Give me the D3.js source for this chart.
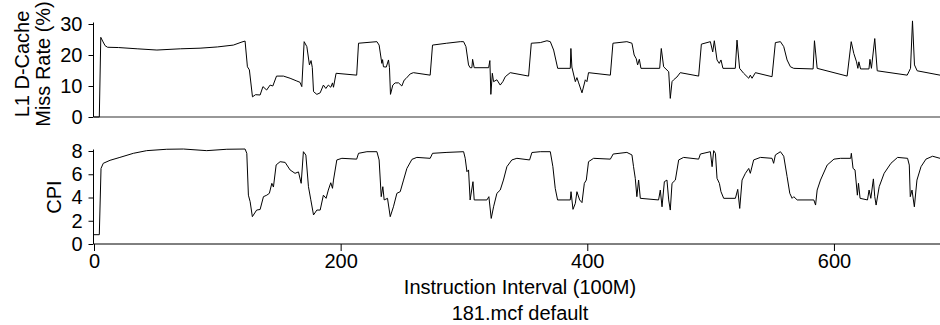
<!DOCTYPE html>
<html><head><meta charset="utf-8">
<script src="https://cdn.jsdelivr.net/npm/d3@7"></script>
<style>
html,body{margin:0;padding:0;background:#fff;}
svg text{font-family:"Liberation Sans",Arial,Helvetica,sans-serif;fill:#000;}
</style></head>
<body><svg id="c" width="940" height="325"></svg>
<script>
// ---- data ----
const missX = [0,4.3,5.5,7,9,11,20,35,51,70,86,100,113,120,122.5,124.4,126,128.5,131,134.7,137,140,142.8,145,148,153.6,159,164.5,167,168.5,170.4,172.6,174.7,176,177,178,180.7,183.4,186,188,190,192,193.4,194.2,196.3,213,214.5,229.4,231.2,233.4,234,234.7,237,238.8,239.6,240.4,242.3,244.2,247,249.6,251.5,253,256.4,259,272.6,274.5,286,297,299.7,301.6,303.7,305,306.4,307,308.3,320,321,321.8,323,324,326.7,329.4,331.5,333.5,337.5,352.4,354.6,361.9,367.3,370,372.7,376,386.2,386.7,387.5,390.3,391.6,393,395.7,398.4,399.7,401,418.7,420.8,432.1,436.2,438,439.7,440.8,442.2,443.5,458.7,460,461.9,466,467.3,468.7,470,472.7,475.4,490.3,492.5,499.8,501.7,503,505.2,507,508.4,510,520,521.4,523.5,526.8,530.9,532.2,533.6,536.3,549.8,552.5,556.6,559.3,562,564.7,567.4,583.1,584.2,586.4,610.7,614,616.1,618.3,619.4,620.2,621.6,628.4,629.2,630.4,633.1,635.1,659.4,662.1,663.7,665.3,667.5,686];
const missY = [0,0,25.7,24.5,23,22.5,22.4,22,21.6,22,22.2,22.6,23.2,24.2,24.5,16.2,15.2,6.5,7.2,7.1,9.8,8.7,10.3,10,13.2,13.2,12.5,11.6,11.2,9.8,24.3,22.7,16.8,18.2,16,8.2,7.3,7.8,10.3,9.2,10.3,9.6,11,9.6,14.1,13.5,23.8,24.3,23.2,17.3,18.5,16.2,16.1,18.4,15.9,7.3,10.3,11,11,10,11.9,12.4,13.9,14.3,13.5,23.2,23.8,24.3,24.3,22.7,16.8,15.9,15.9,18.6,15.9,15.9,18.2,7.3,14.1,11.4,12,10.3,11.4,13,14.3,13.2,23.8,24,24.6,24.3,21.6,15.7,15.7,22.1,16.1,11.4,12.7,11,7.8,12,11.4,14.3,13.5,23.8,24.3,23.8,20,18.8,16.8,18.6,15.7,15.7,22.1,16.2,14.6,6,11.4,12,12.9,14.3,13.2,23.5,24.3,21,24.6,18.4,17.3,18.4,15.7,15.7,24.8,15.7,14.1,12.5,13.5,12.5,14.3,13,24,24.3,22.7,18.4,16.2,15.7,15.5,24.6,15.7,13.2,24.3,20.5,17.8,15.7,17.8,15.5,15.5,18.6,15.7,25.3,14.9,13.5,15.7,31,16.8,14.9,13.5];
const cpiX = [0,4.3,5.7,7.5,13,21,31.9,42.7,59,72.5,91.4,107.7,122.5,123.9,125.2,126.6,128.4,131.9,134.7,137.4,140.1,142.2,144.2,145.5,147.7,150.9,155,159,163,165.8,168,169.8,171.8,173.9,175.8,178,180.7,183.4,186,188.2,190,192,193.4,194.2,196.9,201,213,214.5,221.3,229.4,231.2,232.9,234.2,235.3,238,240.2,242.8,245.6,248.3,251,253.7,257.8,261.8,272.6,274.5,286.2,299.7,301,302.4,303.7,305,307.3,308.3,318.6,320.2,322.1,324,326.7,329.4,332,334.8,338.8,342.9,353.2,355.1,361.9,370,372.1,374,375.9,386.2,386.8,388.4,390.3,391.6,393.8,395.7,397.6,399.2,401,405.1,418.7,421,432.1,436.2,437.5,438.9,440.2,441.6,443,457.8,459.2,460.6,462.5,464.6,466,467.3,468.7,471.4,474.1,478.1,490.3,491.7,499.8,501.2,502.5,503.9,505.2,507.1,508.4,510.6,520.1,522,523.6,525.5,528.2,530.9,532.2,534.9,540.4,549.8,551.1,552.5,556.6,559.3,562,564.2,566.1,567.4,570.2,583.7,585.1,586.4,589.1,594.5,600,605.4,613.6,614.1,615.5,617.1,619,619.9,621.2,627.2,628.5,629.9,632,633.1,634.2,636.7,640.7,646.2,651.6,659.7,661.1,661.9,663.3,665.2,667.3,670.6,674.6,680,686];
const cpiY = [0.8,0.8,6.5,6.94,7.2,7.45,7.8,8.03,8.15,8.17,8.03,8.15,8.17,7.8,4.2,3.64,2.35,2.92,2.97,4.07,4.2,4.36,5.22,4.9,6.8,7.08,7.02,6.37,6.08,6.2,5.22,7.94,7.65,4.93,3.8,2.5,2.92,2.92,4.2,3.93,4.64,5.27,4.79,5.5,7.23,7.37,7.3,7.8,7.94,7.94,7.23,4.07,4.93,3.79,3.93,2.35,3.2,4.36,4.5,5.5,6.5,7.28,7.45,7.37,7.8,7.88,7.94,7.37,6.22,6.37,3.79,5.36,3.79,3.79,4.07,2.2,3.2,4.36,4.64,5.5,6.65,7.23,7.37,7.23,7.87,7.94,7.94,6.65,4.79,3.79,3.79,4.5,2.98,3.5,4.5,3.79,3.56,5.22,5.5,7.08,7.37,7.3,7.74,7.88,7.66,6.65,5.65,4.07,5.5,3.93,3.79,4.64,3.2,5.36,5.5,3.79,2.92,5.22,5.5,7.23,7.45,7.3,7.74,7.94,6.65,8.03,7.8,5.65,5.22,4.5,3.93,3.93,4.7,3.06,5.5,6.08,6.5,6.08,7.23,7.45,7.37,6.94,7.66,7.94,7.55,5.8,4.36,3.93,4.07,3.79,3.79,3.35,4.64,5.5,6.79,7.3,7.37,7.37,7.8,6.5,6.37,4.2,5.22,3.93,3.79,4.64,3.93,5.6,4.07,3.35,4.93,6.08,6.94,7.45,7.37,6.79,4.07,4.64,3.2,5.5,6.65,7.3,7.55,7.37];
const xTicks = [0, 200, 400, 600];
const xMinorTicks = [100, 300, 500];
const missTicks = [0, 10, 20, 30];
const cpiTicks = [0, 2, 4, 6, 8];
const xLabel = "Instruction Interval (100M)";
const title = "181.mcf default";
const missLabel = ["L1 D-Cache", "Miss Rate (%)"];
const cpiLabel = "CPI";

// ---- drawing ----
const svg = d3.select("#c");
const x = d3.scaleLinear().domain([0, 686]).range([94, 940]);
const yMiss = d3.scaleLinear().domain([0, 30]).range([117, 24]);
const yCpi = d3.scaleLinear().domain([0, 8]).range([244, 151]);
const fs = "20px";

function yAxis(scale, major, minorStep) {
  const g = svg.append("g").attr("transform", "translate(93.5,0)");
  const [lo, hi] = scale.domain();
  const minor = d3.range(lo, hi + 1e-9, minorStep).filter(v => !major.includes(v));
  g.call(d3.axisLeft(scale).tickValues(minor).tickSize(3).tickFormat(""));
  g.call(d3.axisLeft(scale).tickValues(major).tickSize(5).tickPadding(6).tickFormat(d3.format("d")));
  g.selectAll("path.domain").remove();
  g.append("line").attr("y1", scale(lo)).attr("y2", scale(hi) - 1.5).attr("stroke", "#000");
  g.selectAll("text").style("font-size", fs);
  g.selectAll(".tick line").attr("stroke", "#000");
  return g;
}
yAxis(yMiss, missTicks, 1);
yAxis(yCpi, cpiTicks, 1);

// top panel baseline
svg.append("line").attr("x1", x(0)).attr("x2", 940).attr("y1", yMiss(0)).attr("y2", yMiss(0))
  .attr("stroke", "#333").attr("stroke-width", 1.2);

// bottom x axis
const gx = svg.append("g").attr("transform", `translate(0,${yCpi(0)})`);
gx.call(d3.axisBottom(x).tickValues(xMinorTicks).tickSize(3).tickFormat(""));
gx.call(d3.axisBottom(x).tickValues(xTicks).tickSize(7).tickPadding(3).tickFormat(d3.format("d")));
gx.selectAll("path.domain").remove();
gx.append("line").attr("x1", x(0)).attr("x2", 940).attr("stroke", "#000");
gx.selectAll("text").style("font-size", fs);

// lines
const missData = missX.map((v, i) => [v, missY[i]]);
const cpiData = cpiX.map((v, i) => [v, cpiY[i]]);
svg.append("path").datum(missData)
  .attr("d", d3.line().x(d => x(d[0])).y(d => yMiss(d[1])))
  .attr("fill", "none").attr("stroke", "#000").attr("stroke-width", 1);
svg.append("path").datum(cpiData)
  .attr("d", d3.line().x(d => x(d[0])).y(d => yCpi(d[1])))
  .attr("fill", "none").attr("stroke", "#000").attr("stroke-width", 1);

// labels
svg.append("text").attr("transform", "translate(29,64) rotate(-90)")
  .attr("text-anchor", "middle").style("font-size", fs).text(missLabel[0]);
svg.append("text").attr("transform", "translate(50,64) rotate(-90)")
  .attr("text-anchor", "middle").style("font-size", fs).text(missLabel[1]);
svg.append("text").attr("transform", "translate(61,197) rotate(-90)")
  .attr("text-anchor", "middle").style("font-size", fs).text(cpiLabel);
svg.append("text").attr("x", 520).attr("y", 293.5).attr("text-anchor", "middle")
  .style("font-size", fs).text(xLabel);
svg.append("text").attr("x", 520).attr("y", 319.5).attr("text-anchor", "middle")
  .style("font-size", fs).text(title);
</script></body></html>
